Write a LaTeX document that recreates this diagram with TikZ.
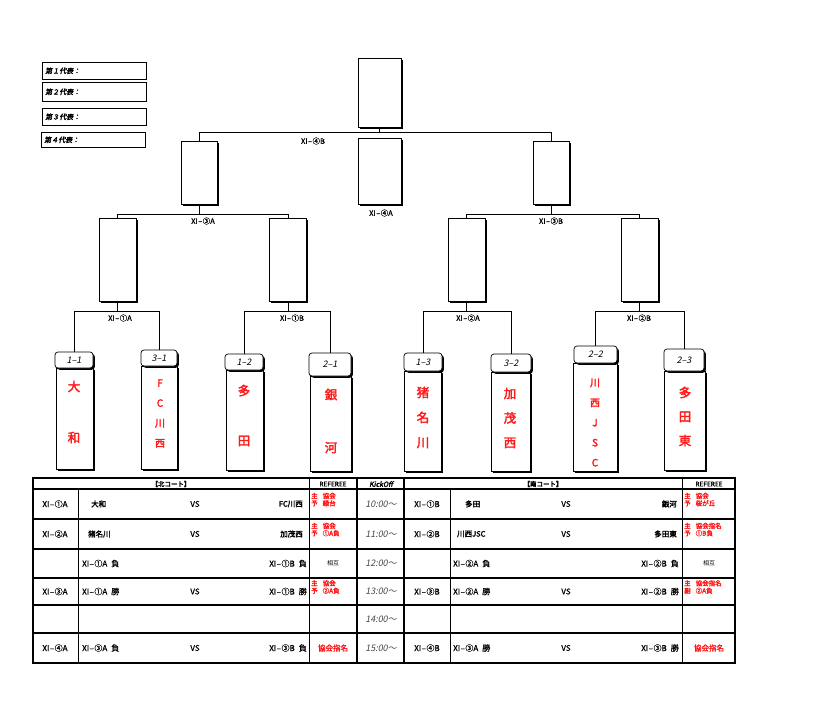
\documentclass[tikz,border=0pt]{standalone}
\usepackage{fontspec}
\setmainfont{Noto Sans CJK JP}
\newfontfamily\jp{Noto Sans CJK JP}
\newfontfamily\jpm[FakeBold=0.8]{Noto Sans CJK JP}
\newfontfamily\jpb[FakeBold=2.5]{Noto Sans CJK JP}
\newfontfamily\jpi[FakeSlant=0.2]{Noto Sans CJK JP}
\newfontfamily\jpbi[FakeSlant=0.2,FakeBold=2.5]{Noto Sans CJK JP}
\usetikzlibrary{shadows}
\definecolor{tred}{RGB}{255,25,25}
\definecolor{tgray}{RGB}{70,70,70}
\newcommand{\xd}{\hspace{0.5pt}–\hspace{0.5pt}}
\begin{document}
\begin{tikzpicture}[x=1pt,y=-1pt,
  wbox/.style={draw,fill=white,line width=0.7pt,inner sep=0pt,
    drop shadow={shadow xshift=1.8pt,shadow yshift=-1.8pt,fill=black,opacity=1}},
  hdr/.style={wbox,rounded corners=3pt,font=\jpi\fontsize{9}{9}\selectfont},
  legbox/.style={draw,fill=white,line width=0.6pt,inner xsep=3pt,inner ysep=0pt,
    anchor=north west,text width=98pt,align=left,font=\jpbi\fontsize{7}{7}\selectfont,
    drop shadow={shadow xshift=1pt,shadow yshift=-1pt,fill=black!45,opacity=1}},
  conn/.style={line width=0.6pt},
  lbl/.style={font=\jpm\fontsize{7.5}{8}\selectfont,inner sep=0pt},
  tname/.style={font=\jpb\fontsize{12.5}{#1}\selectfont,text=tred,align=center,inner sep=0pt},
  sname/.style={font=\jpb\fontsize{10}{#1}\selectfont,text=tred,align=center,inner sep=0pt},
  tt/.style={font=\jpm\fontsize{8}{8}\selectfont,inner sep=0pt},
  tb/.style={font=\jpb\fontsize{7.5}{8}\selectfont,inner sep=0pt},
  tm/.style={font=\jpi\fontsize{9}{9}\selectfont,text=tgray,inner sep=0pt},
  rf/.style={font=\jpb\fontsize{6.5}{7.5}\selectfont,text=tred,align=left,inner sep=0pt,anchor=west},
  hd/.style={font=\jpb\fontsize{6.5}{7}\selectfont,inner sep=0pt},
  tline/.style={line width=1.4pt},
  tthick/.style={line width=2pt},
  tthin/.style={line width=0.9pt}]
\useasboundingbox (0,0) rectangle (825,705);

% legend
\node[legbox,minimum height=17pt] (l1) at (42,62) {第１代表：};
\node[legbox,minimum height=19pt] (l2) at (42,82) {第２代表：};
\node[legbox,minimum height=17pt] (l3) at (42,108) {第３代表：};
\node[legbox,minimum height=15pt] (l4) at (41,132) {第４代表：};

% bracket boxes
\node[wbox,minimum width=43pt,minimum height=69pt] (fin) at (379.5,92.5) {};
\node[wbox,minimum width=43pt,minimum height=66pt] (mid) at (379.5,171) {};
\node[wbox,minimum width=36pt,minimum height=63pt] (s1) at (199,172.5) {};
\node[wbox,minimum width=36pt,minimum height=63pt] (s2) at (551,172.5) {};
\node[wbox,minimum width=37pt,minimum height=83pt] (q1) at (117.5,259.5) {};
\node[wbox,minimum width=37pt,minimum height=83pt] (q2) at (288,259.5) {};
\node[wbox,minimum width=37pt,minimum height=83pt] (q3) at (466.5,259.5) {};
\node[wbox,minimum width=37pt,minimum height=83pt] (q4) at (639.5,259.5) {};

% team bodies
\node[wbox,minimum width=37pt,minimum height=101pt] (b1) at (74.5,418.5) {};
\node[wbox,minimum width=36pt,minimum height=103pt] (b2) at (159,417.5) {};
\node[wbox,minimum width=37pt,minimum height=100pt] (b3) at (244.5,420) {};
\node[wbox,minimum width=41pt,minimum height=95pt] (b4) at (330.5,423.5) {};
\node[wbox,minimum width=37pt,minimum height=100pt] (b5) at (422.5,421) {};
\node[wbox,minimum width=39pt,minimum height=99pt] (b6) at (510.5,421.5) {};
\node[wbox,minimum width=44pt,minimum height=108pt] (b7) at (595,417) {};
\node[wbox,minimum width=41pt,minimum height=99pt] (b8) at (684.5,420.5) {};
% team headers
\node[hdr,minimum width=38pt,minimum height=16pt] (h1) at (74,360) {1–1};
\node[hdr,minimum width=36pt,minimum height=16pt] (h2) at (159,358) {3–1};
\node[hdr,minimum width=38pt,minimum height=16pt] (h3) at (244,362) {1–2};
\node[hdr,minimum width=42pt,minimum height=23pt] (h4) at (330,364.5) {2–1};
\node[hdr,minimum width=38pt,minimum height=18pt] (h5) at (423,362) {1–3};
\node[hdr,minimum width=40pt,minimum height=18pt] (h6) at (511,363) {3–2};
\node[hdr,minimum width=43pt,minimum height=17pt] (h7) at (595.5,354.5) {2–2};
\node[hdr,minimum width=40pt,minimum height=22pt] (h8) at (684,360) {2–3};
% team names
\node[tname=51] (n1) at (74,412) {大\\和};
\node[sname=20] (n2) at (160,413.5) {F\\C\\川\\西};
\node[tname=50] (n3) at (244,415.5) {多\\田};
\node[tname=53] (n4) at (331,421) {銀\\河};
\node[tname=25] (n5) at (423,417.5) {猪\\名\\川};
\node[tname=24.5] (n6) at (510,418) {加\\茂\\西};
\node[sname=20] (n7) at (595,422.5) {川\\西\\J\\S\\C};
\node[tname=24] (n8) at (685,416.5) {多\\田\\東};

% bracket connectors
\coordinate (y311) at (0,311);
\coordinate (y214) at (0,214);
\coordinate (y132) at (0,132);
\draw[conn] (h1.north) -- (h1.north |- y311) -- (h2.north |- y311) -- (h2.north);
\draw[conn] (h3.north) -- (h3.north |- y311) -- (h4.north |- y311) -- (h4.north);
\draw[conn] (h5.north) -- (h5.north |- y311) -- (h6.north |- y311) -- (h6.north);
\draw[conn] (h7.north) -- (h7.north |- y311) -- (h8.north |- y311) -- (h8.north);
\draw[conn] (q1.south) -- (q1.south |- y311);
\draw[conn] (q2.south) -- (q2.south |- y311);
\draw[conn] (q3.south) -- (q3.south |- y311);
\draw[conn] (q4.south) -- (q4.south |- y311);
\draw[conn] (q1.north) -- (q1.north |- y214) -- (q2.north |- y214) -- (q2.north);
\draw[conn] (q3.north) -- (q3.north |- y214) -- (q4.north |- y214) -- (q4.north);
\draw[conn] (s1.south) -- (s1.south |- y214);
\draw[conn] (s2.south) -- (s2.south |- y214);
\draw[conn] (s1.north) -- (s1.north |- y132) -- (s2.north |- y132) -- (s2.north);
\draw[conn] (fin.south) -- (fin.south |- y132);

% bracket labels
\node[lbl] (lb4b) at (313,141) {XI\xd④B};
\node[lbl] (lb4a) at (381,213) {XI\xd④A};
\node[lbl] (lb3a) at (203,221) {XI\xd③A};
\node[lbl] (lb3b) at (551,221) {XI\xd③B};
\node[lbl] (lb1a) at (120,318) {XI\xd①A};
\node[lbl] (lb1b) at (292,318) {XI\xd①B};
\node[lbl] (lb2a) at (468,318) {XI\xd②A};
\node[lbl] (lb2b) at (639,318) {XI\xd②B};

% table grid
\foreach \yy in {489,519,549,578,605,633} \draw[tline] (33,\yy) -- (735,\yy);
\foreach \xx in {309,682} \draw[tthin] (\xx,478) -- (\xx,663);
\foreach \xx in {78,450} \draw[tthin] (\xx,489) -- (\xx,663);
\foreach \xx in {357,404} \draw[tthick] (\xx,478) -- (\xx,663);
\draw[tthick] (33,478) rectangle (735,663);

% table headers
\node[hd] (th1) at (171,484) {【北コート】};
\node[hd] (th2) at (333,484) {REFEREE};
\node[hd,font=\jpbi\fontsize{7}{7}\selectfont] (th3) at (381,484) {KickOff};
\node[hd] (th4) at (543,484) {【南コート】};
\node[hd] (th5) at (709,484) {REFEREE};

% kickoff times
\node[tm] (k1) at (381,504) {10:00～};
\node[tm] (k2) at (381,534) {11:00～};
\node[tm] (k3) at (381,563.5) {12:00～};
\node[tm] (k4) at (381,591.5) {13:00～};
\node[tm] (k5) at (381,619) {14:00～};
\node[tm] (k6) at (381,648) {15:00～};

% north court
\node[tt] (a1) at (55,504) {XI\xd①A};
\node[tb,anchor=west] (a1l) at (91,504) {大和};
\node[tt] (a1v) at (195,504) {VS};
\node[tb,anchor=east] (a1r) at (303,504) {FC川西};
\node[rf] (a1f) at (311,499.5) {主\hspace{5pt}協会\\予\hspace{5pt}緑台};

\node[tt] (a2) at (55,534) {XI\xd②A};
\node[tb,anchor=west] (a2l) at (88,534) {猪名川};
\node[tt] (a2v) at (195,534) {VS};
\node[tb,anchor=east] (a2r) at (303,534) {加茂西};
\node[rf] (a2f) at (311,529.5) {主\hspace{5pt}協会\\予\hspace{5pt}①A負};

\node[tt,anchor=west] (a3l) at (82,563.5) {XI\xd①A\hspace{4pt}負};
\node[tt,anchor=east] (a3r) at (307,563.5) {XI\xd①B\hspace{4pt}負};
\node[tt,font=\jp\fontsize{6}{6}\selectfont] (a3f) at (333,563.5) {相互};

\node[tt] (a4) at (55,591.5) {XI\xd③A};
\node[tt,anchor=west] (a4l) at (82,591.5) {XI\xd①A\hspace{4pt}勝};
\node[tt] (a4v) at (195,591.5) {VS};
\node[tt,anchor=east] (a4r) at (307,591.5) {XI\xd①B\hspace{4pt}勝};
\node[rf] (a4f) at (311,587) {主\hspace{5pt}協会\\予\hspace{5pt}②A負};

\node[tt] (a6) at (55,648) {XI\xd④A};
\node[tt,anchor=west] (a6l) at (82,648) {XI\xd③A\hspace{4pt}負};
\node[tt] (a6v) at (195,648) {VS};
\node[tt,anchor=east] (a6r) at (307,648) {XI\xd③B\hspace{4pt}負};
\node[tb,text=tred] (a6f) at (333,648) {協会指名};

% south court
\node[tt] (c1) at (427,504) {XI\xd①B};
\node[tb,anchor=west] (c1l) at (465,504) {多田};
\node[tt] (c1v) at (566,504) {VS};
\node[tb,anchor=east] (c1r) at (677,504) {銀河};
\node[rf] (c1f) at (684,499.5) {主\hspace{5pt}協会\\予\hspace{5pt}桜が丘};

\node[tt] (c2) at (427,534) {XI\xd②B};
\node[tb,anchor=west] (c2l) at (457,534) {川西JSC};
\node[tt] (c2v) at (566,534) {VS};
\node[tb,anchor=east] (c2r) at (677,534) {多田東};
\node[rf] (c2f) at (684,529.5) {主\hspace{5pt}協会指名\\予\hspace{5pt}①B負};

\node[tt,anchor=west] (c3l) at (453,563.5) {XI\xd②A\hspace{4pt}負};
\node[tt,anchor=east] (c3r) at (679,563.5) {XI\xd②B\hspace{4pt}負};
\node[tt,font=\jp\fontsize{6}{6}\selectfont] (c3f) at (709,563.5) {相互};

\node[tt] (c4) at (427,591.5) {XI\xd③B};
\node[tt,anchor=west] (c4l) at (453,591.5) {XI\xd②A\hspace{4pt}勝};
\node[tt] (c4v) at (566,591.5) {VS};
\node[tt,anchor=east] (c4r) at (679,591.5) {XI\xd②B\hspace{4pt}勝};
\node[rf] (c4f) at (684,587) {主\hspace{5pt}協会指名\\副\hspace{5pt}②A負};

\node[tt] (c6) at (427,648) {XI\xd④B};
\node[tt,anchor=west] (c6l) at (453,648) {XI\xd③A\hspace{4pt}勝};
\node[tt] (c6v) at (566,648) {VS};
\node[tt,anchor=east] (c6r) at (679,648) {XI\xd③B\hspace{4pt}勝};
\node[tb,text=tred] (c6f) at (709,648) {協会指名};
\end{tikzpicture}
\end{document}
